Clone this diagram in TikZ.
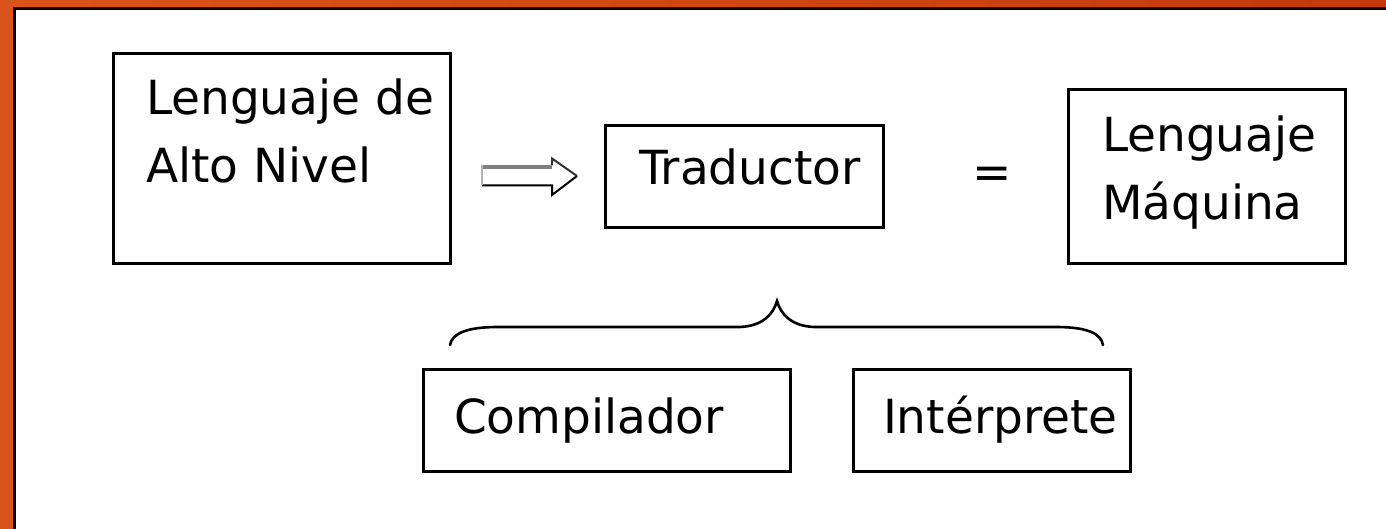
\documentclass[tikz,border=0pt]{standalone}
\usepackage{fontspec}
\setmainfont{DejaVu Sans}
\definecolor{frameorange}{HTML}{D9541A}
\definecolor{framered}{HTML}{C23A0C}
\definecolor{arrowgray}{HTML}{808080}
\begin{document}
\begin{tikzpicture}[x=1pt,y=-1pt,
  box/.style={draw, line width=3pt, inner sep=0pt, outer sep=0pt},
  txt/.style={anchor=base west, inner sep=0pt, outer sep=0pt,
              font=\fontsize{47}{56}\selectfont}]
\useasboundingbox (0,0) rectangle (1386,529);
% slide background and frame
\fill[white] (0,0) rectangle (1386,529);
\shade[left color=frameorange, right color=framered] (0,0) rectangle (1386,7);
\fill[frameorange] (0,0) rectangle (13,529);
\fill[black] (13,7) rectangle (1386,10);
\fill[black] (13,7) rectangle (16,529);

% boxes
\node[box, minimum width=337pt, minimum height=210pt] (hl) at (282,158.5) {};
\node[box, minimum width=278pt, minimum height=102pt] (tr) at (744.5,176.5) {};
\node[box, minimum width=277pt, minimum height=174pt] (lm) at (1207,176.5) {};
\node[box, minimum width=367pt, minimum height=102pt] (co) at (607,420.5) {};
\node[box, minimum width=277pt, minimum height=102pt] (ip) at (992,420.5) {};

% texts
\node[txt] (hlA) at ([shift={(32.5,61.5)}]hl.north west) {Lenguaje de};
\node[txt] (hlB) at ([shift={(32.5,129.5)}]hl.north west) {Alto Nivel};
\node[txt] (trA) at ([shift={(33.5,59.5)}]tr.north west) {Traductor};
\node[txt] (lmA) at ([shift={(33.5,62.5)}]lm.north west) {Lenguaje};
\node[txt] (lmB) at ([shift={(33.5,130.5)}]lm.north west) {Máquina};
\node[txt] (coA) at ([shift={(30.5,63.5)}]co.north west) {Compilador};
\node[txt] (ipA) at ([shift={(29.5,63.5)}]ip.north west) {Intérprete};
\node[inner sep=0pt, font=\fontsize{47}{56}\selectfont] (eq) at (992,178) {=};

% outlined block arrow from the source box to the translator
\coordinate (arw) at (482,175.5);
\fill[white] (arw) ++(0,-10) -- ++(70,0) -- ++(0,-7) -- ++(25,17.5)
  -- ++(-25,19) -- ++(0,-9.5) -- ++(-70,0) -- cycle;
\draw[black, line width=2pt, line join=miter] (arw) ++(0,10) -- ++(70,0) -- ++(0,9.5) -- ++(25,-19);
\draw[black!80, line width=2pt, line join=miter] (arw) ++(95,0.5) -- ++(-25,-17.5) -- ++(0,7);
\draw[arrowgray, line width=4pt] (arw) ++(0,-8.5) -- ++(70,0);
\draw[arrowgray!60, line width=2.5pt] (arw) ++(0,-10) -- ++(0,20);

% brace grouping the two kinds of translator
\coordinate (bL) at (450,345);
\coordinate (bT) at (777,301);
\coordinate (bR) at (1103,345);
\draw[line width=2.6pt, line cap=round]
  (bL) .. controls (452,333) and (468,327) .. (498,327)
  -- (740,327) .. controls (762,326) and (773,315) .. (bT)
  .. controls (781,315) and (792,326) .. (814,327)
  -- (1056,327) .. controls (1086,327) and (1101,333) .. (bR);
\end{tikzpicture}
\end{document}
